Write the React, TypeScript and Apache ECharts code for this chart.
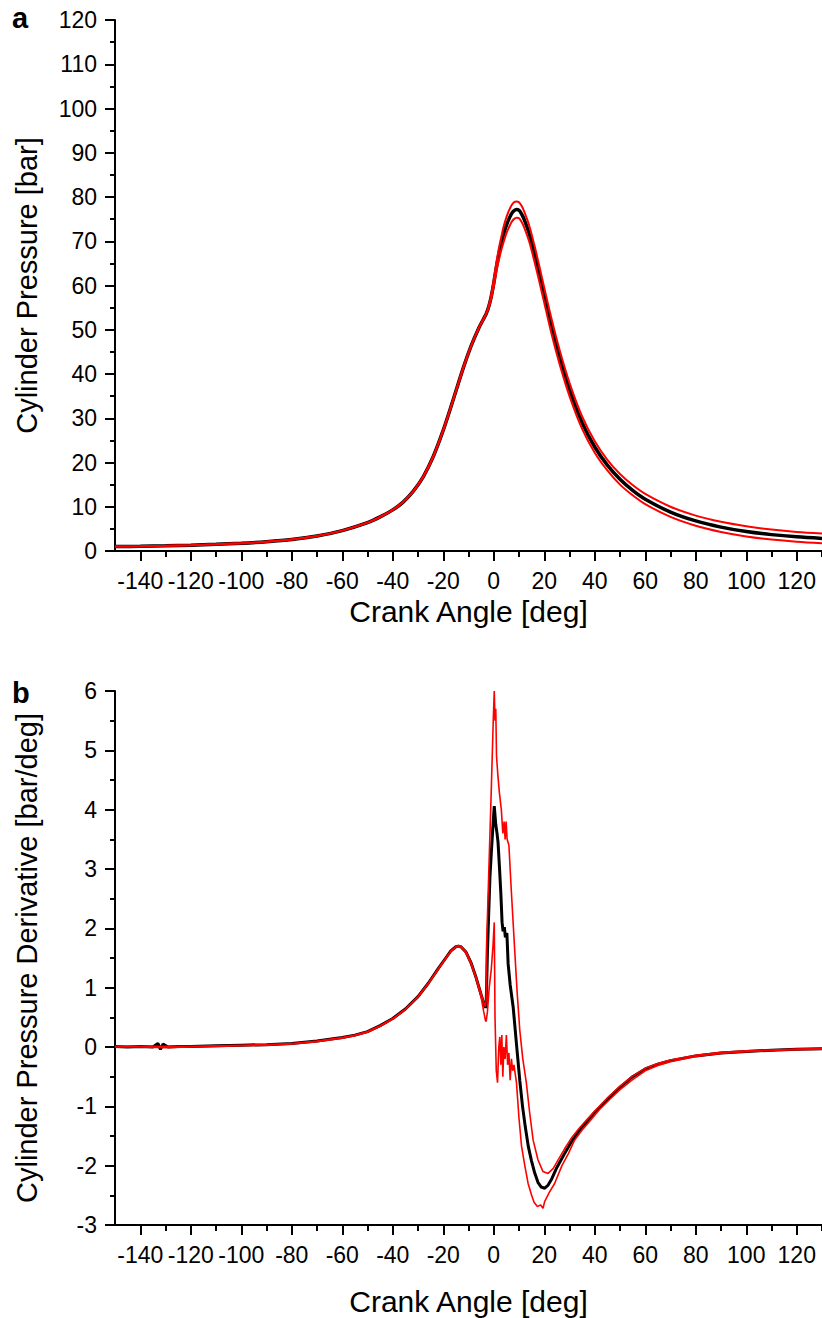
import React, { useEffect, useRef } from "react";
import * as echarts from "echarts";

// ---------- Panel a: cylinder pressure [bar] ----------
const thetaA = [-150,-140,-130,-120,-110,-100,-90,-80,-70,-60,-50,-45,-40,-36,-32,-28,-24,-20,-16,-12,-9,-6,-4,-3,-2,-1,0,1,2,3,4,5,6,7,8,9,10,11,12,14,16,18,20,23,26,30,35,40,45,50,55,60,70,80,90,100,110,120,130];
const pMean = [1.0,1.08,1.18,1.32,1.5,1.75,2.1,2.6,3.4,4.6,6.4,7.7,9.3,11.0,13.4,16.7,21.3,27.3,34.3,41.5,46.3,50.3,52.5,53.6,55.2,57.5,60.5,64,67,69.5,71.8,73.6,75,76.2,76.9,77.2,77,76.2,75,71.8,67.5,62.8,57.8,50.5,44,36.5,29,23.5,19.4,16.2,13.7,11.7,8.8,6.8,5.4,4.4,3.7,3.2,2.85];
const pUpper = [1.0,1.08,1.18,1.32,1.5,1.75,2.1,2.6,3.4,4.6,6.4,7.7,9.3,11.0,13.4,16.7,21.3,27.3,34.3,41.5,46.3,50.3,52.5,53.6,55.4,58,61.3,65,68.3,71,73.5,75.4,76.9,78.1,78.8,79,78.8,78,76.8,73.6,69.3,64.5,59.5,52.2,45.6,38,30.4,24.8,20.6,17.4,14.9,12.9,10,8,6.6,5.6,4.85,4.3,3.95];
const pLower = [1.0,1.08,1.18,1.32,1.5,1.75,2.1,2.6,3.4,4.6,6.4,7.7,9.3,11.0,13.4,16.7,21.3,27.3,34.3,41.5,46.3,50.3,52.5,53.6,55,57,59.7,63,65.7,68,70,71.8,73.1,74.3,75,75.3,75.2,74.4,73.2,70,65.7,61,56.1,48.8,42.4,35,27.6,22.2,18.2,15,12.6,10.6,7.7,5.7,4.3,3.3,2.6,2.1,1.75];

// ---------- Panel b: pressure derivative [bar/deg] ----------
const thetaBMean = [-150,-145,-140,-135,-133,-132,-131,-129,-125,-120,-110,-100,-90,-80,-70,-60,-55,-50,-45,-40,-35,-30,-26,-22,-19,-17,-15,-14,-13,-11,-9,-7,-5,-4,-3.3,-3,-2.5,-2,-1.5,-1,-0.5,0.2,0.8,1.3,1.7,2.3,2.8,3.3,3.7,4.2,4.6,5.2,5.7,6.5,7.7,9,10.3,11.4,12.5,13.7,14.9,16.2,17.5,18.8,20.2,21.5,23,25,28,31,34,37,40,45,50,55,60,65,70,80,90,100,110,120,130];
const dpMean = [0.01,0.0,0.01,0.0,0.06,-0.04,0.05,0.0,0.01,0.01,0.02,0.03,0.04,0.06,0.1,0.16,0.2,0.26,0.36,0.48,0.64,0.85,1.07,1.32,1.5,1.62,1.69,1.7,1.69,1.6,1.42,1.17,0.88,0.74,0.66,0.72,1.6,2.25,2.87,3.25,3.6,4.06,3.75,3.6,3.45,3.0,2.6,2.1,1.95,2.02,1.85,1.92,1.4,1.05,0.67,0.05,-0.56,-1.0,-1.35,-1.68,-1.91,-2.12,-2.28,-2.36,-2.38,-2.33,-2.22,-2.03,-1.8,-1.58,-1.4,-1.25,-1.1,-0.88,-0.68,-0.5,-0.37,-0.29,-0.23,-0.15,-0.1,-0.075,-0.055,-0.04,-0.03];

const thetaBUpper = [-150,-140,-130,-120,-110,-100,-90,-80,-70,-60,-55,-50,-45,-40,-35,-30,-26,-22,-19,-17,-15,-14,-13,-11,-9,-7,-5,-4,-3.3,-3,-2.9,-2,-1,-0.2,0.2,0.5,0.8,1.1,1.6,2.2,3,3.6,4.1,4.5,4.9,5.3,6,7,8.3,9.3,10.3,11.5,12.9,14.2,15.6,17.5,19.5,21.5,23.5,25.4,28,31,34,37,40,45,50,55,60,65,70,80,90,100,110,120,130];
const dpUpper = [0.01,0.01,0.01,0.01,0.02,0.03,0.04,0.06,0.1,0.16,0.2,0.26,0.36,0.48,0.64,0.85,1.07,1.32,1.5,1.62,1.69,1.71,1.7,1.61,1.43,1.18,0.9,0.76,0.68,0.8,1.63,2.9,4.3,5.5,6.0,5.5,5.7,4.9,4.6,4.3,4.0,3.6,3.8,3.5,3.8,3.5,3.4,2.6,1.63,0.9,0.29,-0.2,-0.6,-1.1,-1.57,-1.9,-2.1,-2.13,-2.05,-1.91,-1.72,-1.52,-1.36,-1.22,-1.08,-0.86,-0.66,-0.49,-0.36,-0.28,-0.22,-0.14,-0.09,-0.065,-0.05,-0.035,-0.025];

const thetaBLower = [-150,-140,-130,-120,-110,-100,-90,-80,-70,-60,-55,-50,-45,-40,-35,-30,-26,-22,-19,-17,-15,-14,-13,-11,-9,-7,-5,-4,-3.3,-3,-2.5,-1.8,-1,-0.3,0.2,0.5,1,1.5,2,2.4,2.8,3.2,3.6,4,4.5,5,5.5,6,6.5,7,7.5,8,9,10,11,12.3,13.6,15,16,17.3,18.5,19.5,20.2,22,24.1,27,29.5,32,35,38,42,46,50,55,60,65,70,80,90,100,110,120,130];
const dpLower = [0.0,0.0,-0.01,0.0,0.01,0.02,0.03,0.05,0.09,0.15,0.19,0.25,0.35,0.47,0.63,0.84,1.06,1.31,1.49,1.61,1.68,1.69,1.68,1.58,1.4,1.15,0.84,0.6,0.45,0.43,0.6,1.0,1.3,1.7,2.1,0.5,-0.4,-0.6,0.0,0.17,-0.3,0.2,-0.5,0.0,-0.2,0.2,-0.3,-0.1,-0.56,-0.2,-0.4,-0.3,-0.6,-1.2,-1.67,-2.0,-2.3,-2.5,-2.62,-2.69,-2.66,-2.72,-2.6,-2.45,-2.3,-2.0,-1.8,-1.57,-1.4,-1.25,-1.05,-0.88,-0.72,-0.55,-0.4,-0.31,-0.25,-0.16,-0.11,-0.08,-0.06,-0.045,-0.035];

// ---------- Tick labels ----------
const xMajorTicks = [-140,-120,-100,-80,-60,-40,-20,0,20,40,60,80,100,120];
const xMinorTicks = [-130,-110,-90,-70,-50,-30,-10,10,30,50,70,90,110,130];

const FONT = "'Liberation Sans', Arial, Helvetica, sans-serif";
const BLACK = "#000000";
const RED = "#ff0000";

const zip = (xs: number[], ys: number[]) => xs.map((x, i) => [x, ys[i]]);

function xAxes(grid: number, nameGap: number) {
  return [
    {
      gridIndex: grid,
      type: "value",
      min: -150,
      max: 130,
      position: "bottom",
      axisLine: { show: true, onZero: false, lineStyle: { color: BLACK, width: 2 } },
      axisTick: { show: true, customValues: xMajorTicks, length: 10, lineStyle: { color: BLACK, width: 2 } },
      axisLabel: { show: true, customValues: xMajorTicks, color: BLACK, fontSize: 23, fontFamily: FONT, margin: 18 },
      splitLine: { show: false },
      name: "Crank Angle [deg]",
      nameLocation: "middle",
      nameGap,
      nameTextStyle: { color: BLACK, fontSize: 30, fontFamily: FONT },
    },
    {
      gridIndex: grid,
      type: "value",
      min: -150,
      max: 130,
      position: "bottom",
      axisLine: { show: false, onZero: false },
      axisTick: { show: true, customValues: xMinorTicks, length: 6, lineStyle: { color: BLACK, width: 2 } },
      axisLabel: { show: false },
      splitLine: { show: false },
    },
  ];
}

function yAxis(grid: number, min: number, max: number, interval: number, name: string) {
  return {
    gridIndex: grid,
    type: "value",
    min,
    max,
    interval,
    position: "left",
    axisLine: { show: true, onZero: false, lineStyle: { color: BLACK, width: 2 } },
    axisTick: { show: true, length: 10, lineStyle: { color: BLACK, width: 2 } },
    minorTick: { show: true, splitNumber: 2, length: 5, lineStyle: { color: BLACK, width: 2 } },
    axisLabel: { color: BLACK, fontSize: 23, fontFamily: FONT, margin: 18 },
    splitLine: { show: false },
    minorSplitLine: { show: false },
    name,
    nameLocation: "middle",
    nameGap: 74,
    nameTextStyle: { color: BLACK, fontSize: 29, fontFamily: FONT },
  };
}

function line(name: string, data: number[][], xi: number, yi: number, color: string, width: number, smooth: number, z: number) {
  return {
    name,
    type: "line",
    xAxisIndex: xi,
    yAxisIndex: yi,
    data,
    showSymbol: false,
    symbol: "none",
    smooth,
    lineStyle: { color, width },
    z,
  };
}

export default function App() {
  const ref = useRef<HTMLDivElement>(null);
  useEffect(() => {
    if (!ref.current) return;
    const chart = echarts.init(ref.current, null, { renderer: "svg" });
    chart.setOption({
      animation: false,
      backgroundColor: "#ffffff",
      grid: [
        { left: 115, top: 20, width: 711, height: 531 },
        { left: 115, top: 691, width: 711, height: 534 },
      ],
      xAxis: [...xAxes(0, 45), ...xAxes(1, 61)],
      yAxis: [
        yAxis(0, 0, 120, 10, "Cylinder Pressure [bar]"),
        yAxis(1, -3, 6, 1, "Cylinder Pressure Derivative [bar/deg]"),
      ],
      graphic: [
        { type: "text", x: 12, y: 3, style: { text: "a", font: `bold 29px ${FONT}`, fill: BLACK } },
        { type: "text", x: 12, y: 678, style: { text: "b", font: `bold 29px ${FONT}`, fill: BLACK } },
      ],
      series: [
        line("Mean", zip(thetaA, pMean), 0, 0, BLACK, 3.5, 0.3, 2),
        line("Upper", zip(thetaA, pUpper), 0, 0, RED, 2, 0.3, 3),
        line("Lower", zip(thetaA, pLower), 0, 0, RED, 2, 0.3, 3),
        line("Mean dP", zip(thetaBMean, dpMean), 2, 1, BLACK, 3, 0, 2),
        line("Upper dP", zip(thetaBUpper, dpUpper), 2, 1, RED, 1.6, 0, 3),
        line("Lower dP", zip(thetaBLower, dpLower), 2, 1, RED, 1.6, 0, 3),
      ],
    });
    return () => chart.dispose();
  }, []);
  return <div ref={ref} style={{ position: "absolute", left: 0, top: 0, width: 822, height: 1318, background: "#fff" }} />;
}
